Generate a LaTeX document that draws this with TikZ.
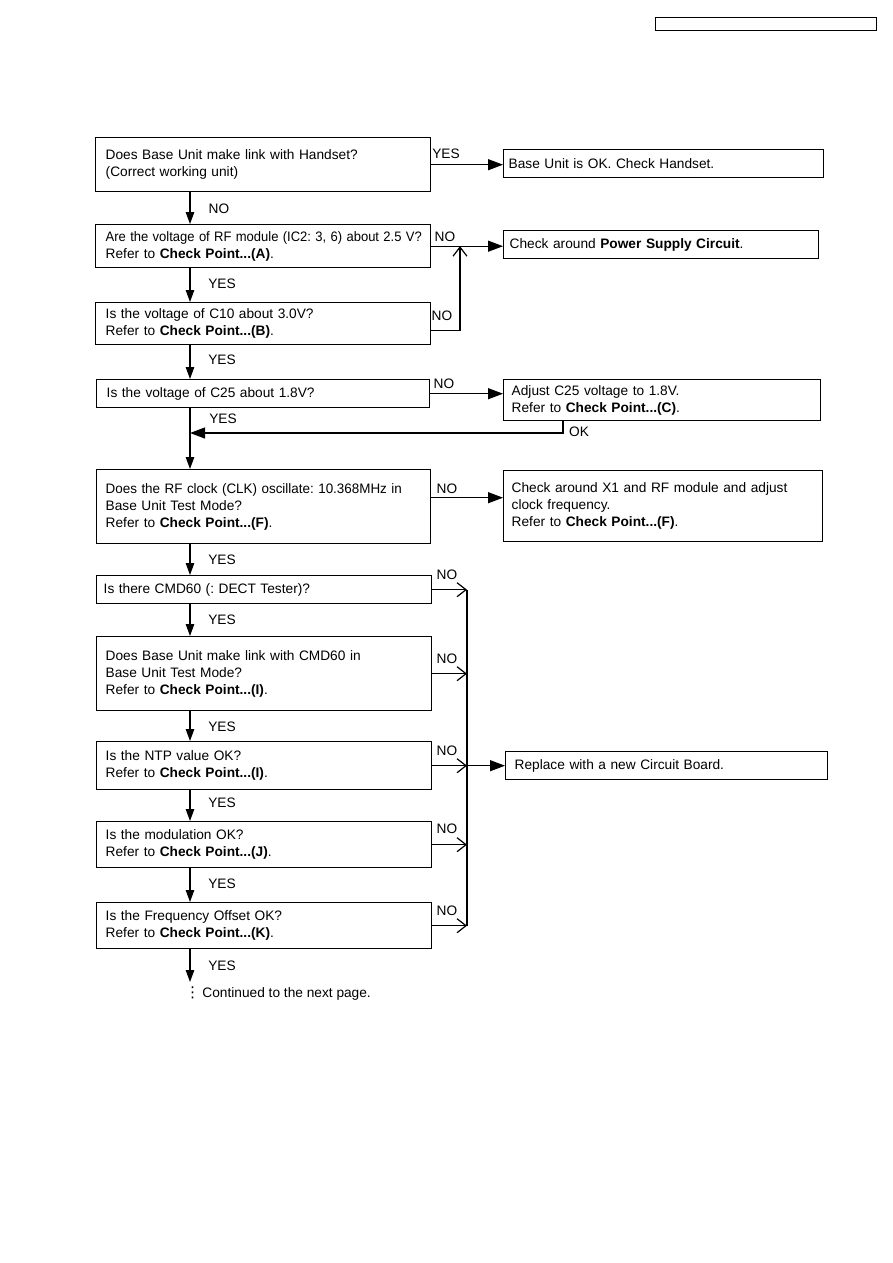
\documentclass[tikz,border=0pt]{standalone}
\usepackage{fontspec}
\setmainfont{Liberation Sans}
\newfontfamily\symfont{DejaVu Sans}
\usetikzlibrary{arrows.meta,calc}
\begin{document}
\frenchspacing
\begin{tikzpicture}[x=1pt,y=-1pt,
  box/.style={draw, line width=1.4pt, rectangle, anchor=north west, align=left,
    inner ysep=0pt, font=\fontsize{13.7}{17}\selectfont},
  lbl/.style={font=\fontsize{13.7}{16}\selectfont, inner sep=0pt},
  harr/.style={line width=1.2pt, -{Triangle[length=15pt,width=11pt]}},
  varr/.style={line width=1.2pt, -{Triangle[length=12pt,width=8.5pt]}},
  oarr/.style={line width=1.2pt, -{Straight Barb[length=9pt,width=14pt,line width=1.2pt]}},
  ln/.style={line width=1.2pt}]
\useasboundingbox (0,0) rectangle (893,1263);

% header box
\node[draw, line width=1.2pt, anchor=north west, minimum width=221pt, minimum height=13pt, inner sep=0pt] (hdr) at (655,17) {};

% boxes
\node[box, text width=315pt, inner xsep=10pt, minimum height=54pt] (A) at (95,137)
  {Does Base Unit make link with Handset?\\(Correct working unit)};
\node[box, text width=310pt, inner xsep=5pt, minimum height=28pt] (OK1) at (503,149)
  {Base Unit is OK. Check Handset.};
\node[box, text width=315pt, inner xsep=10pt, minimum height=43pt] (B) at (95,224)
  {\scalebox{0.95}[1]{Are the voltage of RF module (IC2: 3, 6) about 2.5 V?}\\Refer to \textbf{Check Point...(A)}.};
\node[box, text width=303pt, inner xsep=6pt, minimum height=28pt] (Pwr) at (503,230)
  {Check around \textbf{Power Supply Circuit}.};
\node[box, text width=315pt, inner xsep=10pt, minimum height=42pt] (C) at (95,302)
  {Is the voltage of C10 about 3.0V?\\Refer to \textbf{Check Point...(B)}.};
\node[box, text width=313pt, inner xsep=10pt, minimum height=28pt] (D) at (96,379)
  {Is the voltage of C25 about 1.8V?};
\node[box, text width=301pt, inner xsep=8pt, minimum height=41pt] (Adj) at (503,379)
  {Adjust C25 voltage to 1.8V.\\Refer to \textbf{Check Point...(C)}.};
\node[box, text width=316pt, inner xsep=9pt, minimum height=74pt] (E) at (96,469)
  {\scalebox{0.98}[1]{Does the RF clock (CLK) oscillate: 10.368MHz in}\\Base Unit Test Mode?\\Refer to \textbf{Check Point...(F)}.};
\node[box, text width=303pt, inner xsep=8pt, minimum height=71pt] (F) at (503,470)
  {\mbox{Check around X1 and RF module and adjust}\\clock frequency.\\Refer to \textbf{Check Point...(F)}.};
\node[box, text width=321pt, inner xsep=7pt, minimum height=28pt] (G) at (96,575)
  {Is there CMD60 (: DECT Tester)?};
\node[box, text width=317pt, inner xsep=9pt, minimum height=74pt] (H) at (96,636)
  {Does Base Unit make link with CMD60 in\\Base Unit Test Mode?\\Refer to \textbf{Check Point...(I)}.};
\node[box, text width=317pt, inner xsep=9pt, minimum height=48pt] (I) at (96,741)
  {Is the NTP value OK?\\Refer to \textbf{Check Point...(I)}.};
\node[box, text width=304pt, inner xsep=9pt, minimum height=28pt] (Repl) at (505,751)
  {Replace with a new Circuit Board.};
\node[box, text width=317pt, inner xsep=9pt, minimum height=46pt] (J) at (96,821)
  {Is the modulation OK?\\Refer to \textbf{Check Point...(J)}.};
\node[box, text width=317pt, inner xsep=9pt, minimum height=46pt] (K) at (96,902)
  {Is the Frequency Offset OK?\\Refer to \textbf{Check Point...(K)}.};

% helper coordinates
\coordinate (cx) at (190,0);
\coordinate (mx) at (460,0);
\coordinate (vx) at (467,0);
\coordinate (okx) at (563,0);
\coordinate (okc) at (190,433);
\coordinate (endc) at (190,982);

% connectors
\draw[harr] (A.east) -- (A.east -| OK1.west);
\draw[varr] (A.south -| cx) -- (B.north -| cx);
\draw[harr] (B.east) -- (B.east -| Pwr.west);
\draw[oarr] ([yshift=-7pt]C.east) -| (mx |- B.east);
\draw[varr] (B.south -| cx) -- (C.north -| cx);
\draw[varr] (C.south -| cx) -- (D.north -| cx);
\draw[harr] (D.east) -- (D.east -| Adj.west);
\draw[harr] (Adj.south -| okx) |- (okc);
\draw[varr] (D.south -| cx) -- (E.north -| cx);
\draw[harr] ([yshift=9pt]E.east) -- ([yshift=9pt]E.east -| F.west);
\draw[varr] (E.south -| cx) -- (G.north -| cx);
\draw[varr] (G.south -| cx) -- (H.north -| cx);
\draw[varr] (H.south -| cx) -- (I.north -| cx);
\draw[varr] (I.south -| cx) -- (J.north -| cx);
\draw[varr] (J.south -| cx) -- (K.north -| cx);
\draw[varr] (K.south -| cx) -- (endc);
\draw[oarr] (G.east) -- (G.east -| vx);
\draw[oarr] (H.east) -- (H.east -| vx);
\draw[oarr] (I.east) -- (I.east -| vx);
\draw[oarr] (J.east) -- (J.east -| vx);
\draw[oarr] (K.east) -- (K.east -| vx);
\draw[ln] (vx |- G.east) -- (vx |- K.east);
\draw[harr] (vx |- I.east) -- (Repl.west |- I.east);

% labels
\node[lbl] (l1) at (446,154) {YES};
\node[lbl] (l2) at (219,209) {NO};
\node[lbl] (l3) at (445,237) {NO};
\node[lbl] (l4) at (222,284) {YES};
\node[lbl] (l5) at (442,316) {NO};
\node[lbl] (l6) at (222,360) {YES};
\node[lbl] (l7) at (444,384) {NO};
\node[lbl] (l8) at (223,419) {YES};
\node[lbl] (l9) at (579,432) {OK};
\node[lbl] (l10) at (447,489) {NO};
\node[lbl] (l11) at (222,560) {YES};
\node[lbl] (l12) at (447,575) {NO};
\node[lbl] (l13) at (222,620) {YES};
\node[lbl] (l14) at (447,659) {NO};
\node[lbl] (l15) at (222,727) {YES};
\node[lbl] (l16) at (447,751) {NO};
\node[lbl] (l17) at (222,803) {YES};
\node[lbl] (l18) at (447,829) {NO};
\node[lbl] (l19) at (222,884) {YES};
\node[lbl] (l20) at (447,911) {NO};
\node[lbl] (l21) at (222,966) {YES};

\node[lbl, anchor=west] (cont) at (185,994) {{\symfont\fontsize{15}{15}\selectfont ⋮}\,Continued to the next page.};
\end{tikzpicture}
\end{document}
